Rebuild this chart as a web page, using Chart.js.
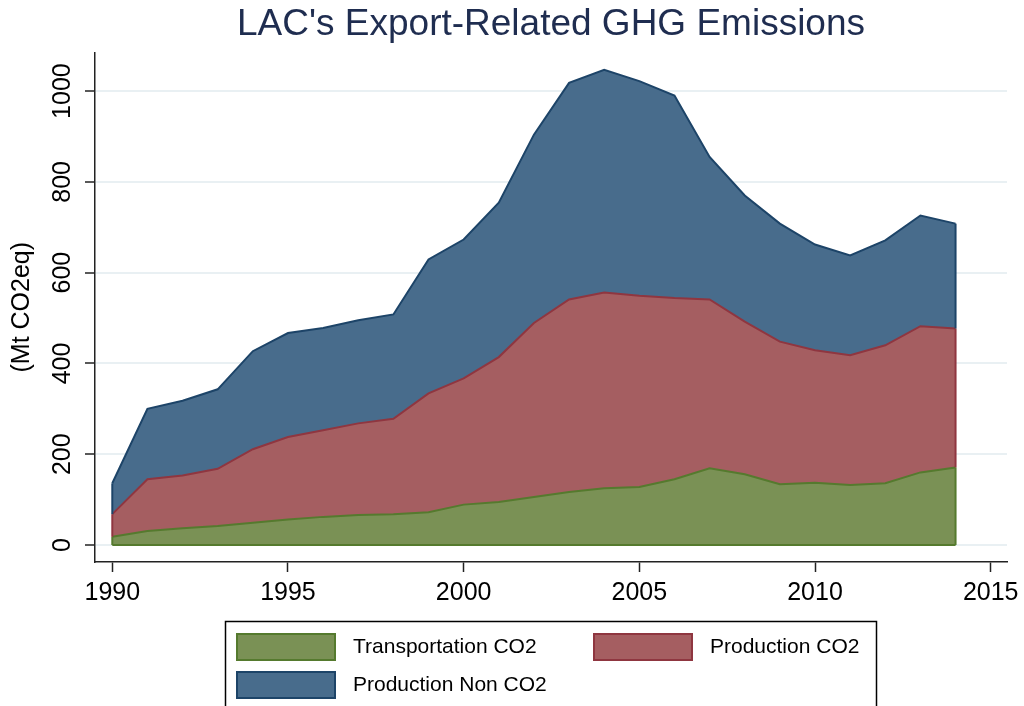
<!DOCTYPE html>
<html>
<head>
<meta charset="utf-8">
<script src="https://cdn.jsdelivr.net/npm/chart.js@4.4.1/dist/chart.umd.min.js"></script>
<style>
  html, body { margin:0; padding:0; background:#fff; }
  #wrap { width:1024px; height:706px; }
</style>
</head>
<body>
<div id="wrap"><canvas id="chart" width="1024" height="706"></canvas></div>
<script>
const years = [1990,1991,1992,1993,1994,1995,1996,1997,1998,1999,2000,2001,2002,2003,2004,2005,2006,2007,2008,2009,2010,2011,2012,2013,2014];
const transportCO2 = [18,31,37,42,49,56,62,66,68,72,89,95,106,117,125,128,145,169,156,134,137,132,136,160,171];
const productionCO2 = [50,114,116,126,162,182,191,202,210,262,278,319,383,424,431,421,399,372,336,314,292,286,304,322,306];
const productionNonCO2 = [68,155,165,175,216,229,225,227,230,295,306,340,415,477,491,473,446,314,278,260,233,220,231,244,231];
const xTicks = [1990,1995,2000,2005,2010,2015];
const yTicks = [0,200,400,600,800,1000];

const FONT = "'Liberation Sans', Arial, sans-serif";
Chart.defaults.font.family = FONT;

const pts = arr => arr.map((v, i) => ({ x: years[i], y: v }));

// y tick labels rotated like the original, plus the closed ends of each area
const extras = {
  id: 'extras',
  afterDatasetsDraw(chart) {
    const ctx = chart.ctx;
    const y = chart.scales.y;
    const zero = y.getPixelForValue(0);
    ctx.save();
    chart.data.datasets.forEach((ds, i) => {
      const meta = chart.getDatasetMeta(i);
      const prev = i > 0 ? chart.getDatasetMeta(i - 1).data : null;
      const ends = [0, meta.data.length - 1];
      ctx.strokeStyle = ds.borderColor;
      ctx.lineWidth = 2;
      ends.forEach(k => {
        const p = meta.data[k];
        const base = prev ? prev[k].y : zero;
        ctx.beginPath(); ctx.moveTo(p.x, p.y); ctx.lineTo(p.x, base); ctx.stroke();
      });
      if (i === 0) {
        ctx.beginPath();
        ctx.moveTo(meta.data[0].x, zero);
        ctx.lineTo(meta.data[meta.data.length - 1].x, zero);
        ctx.stroke();
      }
    });
    ctx.restore();
  },
  afterDraw(chart) {
    const ctx = chart.ctx;
    const y = chart.scales.y;
    ctx.save();
    ctx.fillStyle = '#000';
    ctx.font = '25px ' + FONT;
    ctx.textAlign = 'center';
    ctx.textBaseline = 'middle';
    yTicks.forEach(v => {
      ctx.save();
      ctx.translate(63, y.getPixelForValue(v));
      ctx.rotate(-Math.PI / 2);
      ctx.fillText(String(v), 0, 0);
      ctx.restore();
    });

    // legend box
    ctx.strokeStyle = '#000';
    ctx.lineWidth = 1.5;
    ctx.strokeRect(225.5, 621.5, 651, 110);
    const slots = [[237, 634, 353], [594, 634, 710], [237, 672, 353]];
    ctx.font = '21px ' + FONT;
    ctx.textAlign = 'left';
    chart.data.datasets.forEach((ds, i) => {
      const [sx, sy, tx] = slots[i];
      ctx.fillStyle = ds.backgroundColor;
      ctx.fillRect(sx, sy, 98, 26);
      ctx.strokeStyle = ds.borderColor;
      ctx.lineWidth = 2;
      ctx.strokeRect(sx, sy, 98, 26);
      ctx.fillStyle = '#000';
      ctx.fillText(ds.label, tx, sy + 13);
    });
    ctx.restore();
  }
};

new Chart(document.getElementById('chart'), {
  type: 'line',
  data: {
    datasets: [
      { label: 'Transportation CO2', data: pts(transportCO2), fill: 'origin',
        backgroundColor: '#7a9155', borderColor: '#557a2e' },
      { label: 'Production CO2', data: pts(productionCO2), fill: '-1',
        backgroundColor: '#a55e61', borderColor: '#8f3640' },
      { label: 'Production Non CO2', data: pts(productionNonCO2), fill: '-1',
        backgroundColor: '#486c8c', borderColor: '#1d4468' }
    ]
  },
  options: {
    responsive: false,
    animation: false,
    devicePixelRatio: 1,
    layout: { padding: { left: 0, right: 17, top: 0, bottom: 84 } },
    elements: {
      line: { borderWidth: 2, tension: 0 },
      point: { radius: 0, hoverRadius: 0 }
    },
    plugins: {
      legend: { display: false },
      tooltip: { enabled: false },
      title: {
        display: true,
        text: "LAC's Export-Related GHG Emissions",
        fullSize: false,
        color: '#1f2d50',
        font: { size: 37, weight: 'normal' },
        padding: { top: 3, bottom: 5 }
      }
    },
    scales: {
      x: {
        type: 'linear',
        min: 1989.508,
        max: 2015.464,
        afterBuildTicks: s => { s.ticks = xTicks.map(v => ({ value: v })); },
        afterFit: s => { s.height = 60; s.paddingLeft = 0; s.paddingRight = 0; },
        grid: { drawOnChartArea: false, tickLength: 10, tickColor: '#222', tickWidth: 1.5 },
        border: { color: '#222', width: 1.5 },
        ticks: { color: '#000', font: { size: 25 }, padding: 6, maxRotation: 0, callback: v => String(v) }
      },
      y: {
        stacked: true,
        min: -37.4,
        max: 1085.2,
        afterBuildTicks: s => { s.ticks = yTicks.map(v => ({ value: v })); },
        afterFit: s => { s.width = 95; s.paddingTop = 0; s.paddingBottom = 0; },
        grid: { color: '#e9f0f3', lineWidth: 2, tickLength: 10, tickColor: '#222', tickWidth: 1.5 },
        border: { color: '#222', width: 1.5 },
        ticks: { display: false },
        title: { display: true, text: '(Mt CO2eq)', color: '#000', font: { size: 25 }, padding: { top: 7 } }
      }
    }
  },
  plugins: [extras]
});
</script>
</body>
</html>
